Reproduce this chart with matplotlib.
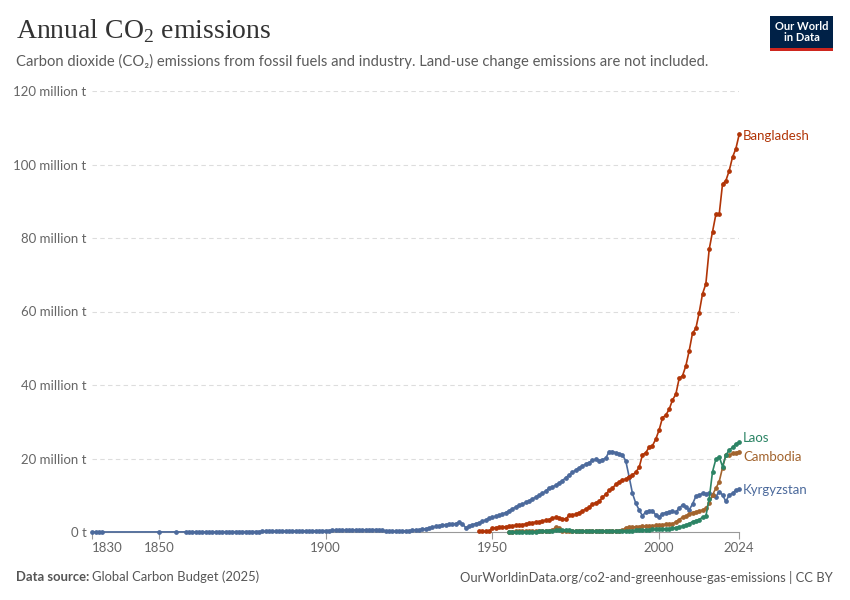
import numpy as np
import matplotlib
matplotlib.use("Agg")
import matplotlib.pyplot as plt
from matplotlib.patches import Rectangle

plt.rcParams["font.family"] = ["Lato", "DejaVu Sans"]

# ---- data (million tonnes CO2) ----
kgz_years = [1830, 1831, 1832, 1833, 1850, 1855] + list(range(1858, 2025))
kgz_vals = [0.01, 0.01, 0.01, 0.01, 0.01, 0.01,
            0.02, 0.02, 0.03, 0.03, 0.03, 0.04, 0.04, 0.04, 0.05, 0.05, 0.06, 0.06,
            0.07, 0.07, 0.08, 0.08, 0.09, 0.09, 0.10, 0.11, 0.11, 0.12,
            0.13, 0.14, 0.15, 0.16, 0.17, 0.18, 0.19, 0.20, 0.21, 0.22,
            0.23, 0.24, 0.26, 0.27, 0.28, 0.30, 0.31, 0.33, 0.34, 0.35,
            0.37, 0.39, 0.41, 0.42, 0.44, 0.45, 0.47, 0.49, 0.50, 0.52,
            0.54, 0.56, 0.58, 0.60, 0.62, 0.65, 0.62, 0.58, 0.25, 0.18,
            0.18, 0.20, 0.22, 0.25, 0.30, 0.35, 0.42, 0.50, 0.60, 0.75,
            0.9, 1.1, 1.3, 1.5, 1.7, 1.9, 2.0, 2.1, 2.2, 2.3,
            2.7, 2.2, 1.2, 1.6, 2.0, 2.3, 2.5, 2.9, 3.3, 3.7,
            4.0, 4.3, 4.5, 4.9, 5.3, 5.8, 6.3, 6.8, 7.3, 7.6,
            8.1, 8.5, 9.0, 9.5, 10.0, 10.5, 11.2, 11.9, 12.3, 12.7,
            13.4, 14.0, 14.8, 15.5, 16.2, 16.9, 17.5, 18.0, 18.5, 18.9,
            19.5, 19.8, 19.4, 19.7, 20.1, 21.9, 21.9, 21.6, 21.3, 21.0,
            19.3, 15.0, 10.5, 7.8, 6.0, 4.4, 5.5, 5.8, 5.8, 4.6,
            4.0, 5.0, 5.3, 5.5, 5.6, 5.5, 6.4, 7.4, 6.8, 6.0,
            7.6, 9.7, 10.1, 10.5, 10.3, 10.5, 10.1, 9.6, 11.0, 10.1,
            8.3, 10.1, 10.5, 11.4, 11.6]

bgd_years = list(range(1946, 2025))
bgd_vals = [0.15, 0.15, 0.15, 0.15,
            1.1, 1.2, 1.3, 1.35, 1.45, 1.5, 1.7, 1.8, 1.9, 2.0,
            2.2, 2.4, 2.5, 2.7, 2.8, 3.0, 3.2, 3.4, 3.8, 4.0,
            3.9, 3.5, 3.6, 4.5, 4.7, 4.8, 5.3, 5.7, 6.3, 6.7,
            7.5, 8.0, 8.3, 9.4, 10.3, 11.3, 11.9, 13.0, 13.6, 14.2,
            14.4, 15.0, 15.5, 16.3, 17.6, 21.0, 21.6, 23.1, 23.5, 25.3,
            27.8, 31.1, 31.8, 33.4, 35.9, 37.5, 41.8, 42.5, 45.2, 49.3,
            54.1, 55.4, 59.7, 64.8, 67.5, 76.9, 81.7, 86.4, 86.4, 94.7,
            95.6, 98.3, 102.0, 104.3, 108.2]

khm_years = list(range(1955, 2025))
khm_vals = [0.12, 0.13, 0.14, 0.15, 0.16, 0.17, 0.18, 0.20, 0.22, 0.25, 0.28, 0.30, 0.35,
            0.6, 1.3, 1.1, 0.3, 0.25, 0.2, 0.2, 0.15, 0.15, 0.15, 0.15, 0.15,
            0.2, 0.2, 0.25, 0.25, 0.3, 0.3, 0.35, 0.35, 0.4, 0.45,
            1.2, 1.3, 1.35, 1.4, 1.45, 1.5, 1.55, 1.6, 1.7, 1.8,
            1.9, 2.0, 2.1, 2.2, 2.2, 2.8, 3.4, 4.0, 4.35, 4.9,
            5.3, 5.5, 5.7, 6.0, 6.4, 7.8, 10.1, 11.9, 13.7, 17.5,
            20.9, 20.9, 21.4, 21.6, 21.9]

lao_years = list(range(1955, 2025))
lao_vals = [0.05, 0.05, 0.06, 0.06, 0.07, 0.08, 0.09, 0.10, 0.12, 0.14, 0.16, 0.18, 0.20,
            0.3, 0.45, 0.55, 0.55, 0.5, 0.45, 0.3, 0.2, 0.15, 0.15, 0.15, 0.15,
            0.15, 0.15, 0.15, 0.15, 0.15, 0.2, 0.2, 0.2, 0.2, 0.25,
            0.3, 0.35, 0.4, 0.45, 0.5, 0.55, 0.6, 0.65, 0.7, 0.75,
            0.8, 0.85, 0.9, 0.95, 1.0, 1.2, 1.45, 1.6, 1.9, 2.3,
            2.8, 3.1, 3.4, 4.0, 4.3, 9.0, 16.4, 19.8, 20.5, 17.8,
            20.9, 22.3, 23.0, 24.0, 24.4]

series = [
    ("Kyrgyzstan", kgz_years, kgz_vals, "#4c6a9c"),
    ("Cambodia", khm_years, khm_vals, "#a2642e"),
    ("Laos", lao_years, lao_vals, "#2c8465"),
    ("Bangladesh", bgd_years, bgd_vals, "#b13507"),
]
# nudge of end labels (million t) so they do not collide
label_nudge = {"Kyrgyzstan": -0.2, "Cambodia": -1.5, "Laos": 1.2, "Bangladesh": -0.5}

yticks = [0, 20, 40, 60, 80, 100, 120]
ytick_labels = ["0 t", "20 million t", "40 million t", "60 million t",
                "80 million t", "100 million t", "120 million t"]
xticks = [1830, 1850, 1900, 1950, 2000, 2024]

W, H = 850, 600
fig = plt.figure(figsize=(W / 100, H / 100), dpi=100)
ax = fig.add_axes([92.2 / W, 1 - 532 / H, (739.2 - 92.2) / W, (532 - 91) / H])

for name, yrs, vals, col in series:
    ax.plot(yrs, vals, color=col, lw=1.2, marker="o", ms=2.4, mec=col, mfc=col,
            solid_joinstyle="round", clip_on=False, zorder=3)
    ax.text(yrs[-1] + 1.2, vals[-1] + label_nudge[name], name, color=col,
            fontsize=9.5, va="center", ha="left")

ax.set_xlim(1830, 2024)
ax.set_ylim(0, 120)
for s in ["top", "right", "left"]:
    ax.spines[s].set_visible(False)
ax.spines["bottom"].set_color("#999999")
ax.spines["bottom"].set_linewidth(0.8)

ax.set_yticks(yticks)
ax.set_yticklabels(ytick_labels)
ax.tick_params(axis="y", length=0, pad=4, labelsize=9.5, labelcolor="#666666")
for y in yticks[1:]:
    ax.axhline(y, color="#dddddd", lw=0.8, ls=(0, (4, 3)), zorder=1)

ax.set_xticks(xticks)
ax.set_xticklabels([str(x) for x in xticks])
ax.tick_params(axis="x", length=5, width=0.8, color="#999999", pad=2,
               labelsize=9.5, labelcolor="#666666")
ax.get_xticklabels()[0].set_horizontalalignment("left")

# title block
fig.text(16 / W, 1 - 31 / H, r"Annual CO$_\mathregular{2}$ emissions",
         family=["Liberation Serif", "DejaVu Serif"],
         fontsize=20, color="#333333", va="center", ha="left")
fig.text(16 / W, 1 - 61 / H,
         "Carbon dioxide (CO\u2082) emissions from fossil fuels and industry. "
         "Land-use change emissions are not included.",
         fontsize=10.65, color="#5b5b5b", va="center", ha="left")

# logo
fig.patches.append(Rectangle((770 / W, 1 - 48 / H), 63 / W, 32 / H, transform=fig.transFigure,
                             facecolor="#002147", edgecolor="none"))
fig.patches.append(Rectangle((770 / W, 1 - 51 / H), 63 / W, 3 / H, transform=fig.transFigure,
                             facecolor="#ce261e", edgecolor="none"))
fig.text(801.5 / W, 1 - 32 / H, "Our World\nin Data", color="white", fontsize=8,
         weight="bold", ha="center", va="center", linespacing=1.05)

# footer
t = fig.text(16 / W, 1 - 577 / H, "Data source:", fontsize=9.4, weight="bold",
             color="#555555", va="center", ha="left")
fig.canvas.draw()
bb = t.get_window_extent()
fig.text(bb.x1 / W + 3 / W, 1 - 577 / H, "Global Carbon Budget (2025)", fontsize=9.4,
         color="#555555", va="center", ha="left")
fig.text(833 / W, 1 - 577 / H,
         "OurWorldinData.org/co2-and-greenhouse-gas-emissions | CC BY",
         fontsize=9.4, color="#555555", va="center", ha="right")

fig.savefig("out.png", dpi=100, facecolor="white")
